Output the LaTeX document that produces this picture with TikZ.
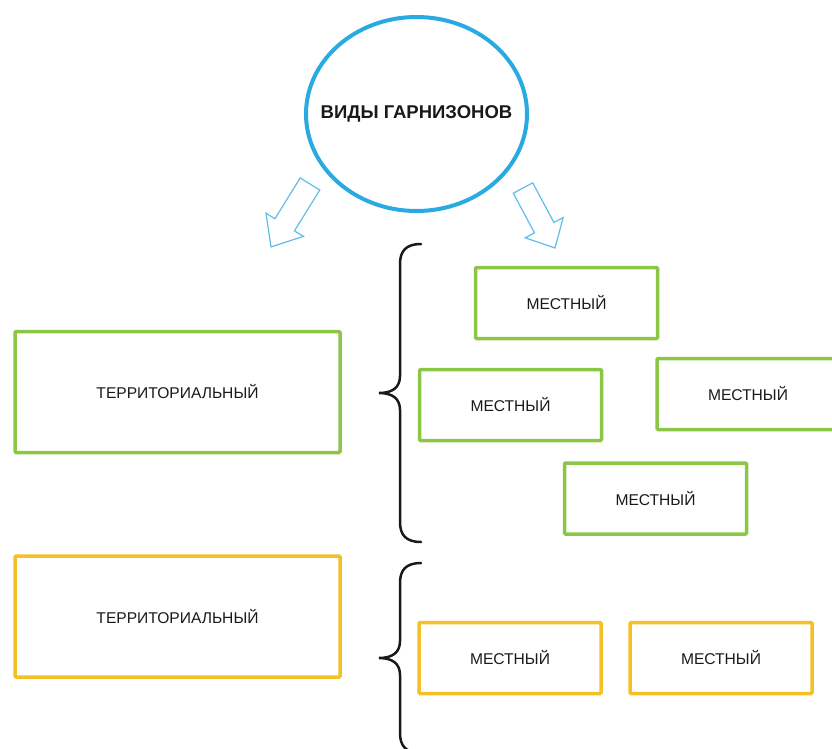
\documentclass[tikz,border=0pt]{standalone}
\usepackage{fontspec}
\setmainfont{Liberation Sans}
\usetikzlibrary{shapes.geometric}
\definecolor{vblue}{RGB}{41,171,226}
\definecolor{varrow}{RGB}{95,190,230}
\definecolor{vgreen}{RGB}{140,198,70}
\definecolor{vyellow}{RGB}{245,192,35}
\definecolor{vtext}{RGB}{25,25,25}
\tikzset{
    title/.style = {ellipse, draw = vblue, line width = 4pt, minimum width = 221pt,
        minimum height = 194pt, inner xsep = -25pt, inner ysep = 0pt, text = vtext,
        font = \fontsize{18.5}{22}\selectfont\bfseries},
    terrbox/.style = {draw, line width = 3.5pt, rounded corners = 1pt,
        minimum width = 325pt, minimum height = 121pt, inner sep = 0pt,
        text = vtext, font = \fontsize{15.6}{18}\selectfont},
    mbox/.style = {terrbox, minimum width = 182pt, minimum height = 71pt},
    blockarr/.style = {draw = varrow, line width = 1.2pt, line join = miter},
    curly/.style = {draw = vtext, line width = 2.5pt, line cap = round}
}
\begin{document}
\begin{tikzpicture}[x = 1pt, y = -1pt]
    \useasboundingbox (0,0) rectangle (832,749);
    %Title
    \node[title] (vidy) at (416.5,114) {ВИДЫ ГАРНИЗОНОВ};
    %Arrows
    \draw[blockarr, shift = {(310,184)}, rotate = -121.8]
        (0,-11.5) -- (48,-11.5) -- (48,-22) -- (74,0)
        -- (48,22) -- (48,11.5) -- (0,11.5) -- cycle;
    \draw[blockarr, shift = {(523,188)}, rotate = -61.9]
        (0,-11) -- (45,-11) -- (45,-21.5) -- (68,0)
        -- (45,21.5) -- (45,11) -- (0,11) -- cycle;
    %Green group
    \node[terrbox, draw = vgreen] (terrG) at (177.5,392) {ТЕРРИТОРИАЛЬНЫЙ};
    \draw[curly] (421,244) .. controls (406,244) and (400,251) .. (400,264)
        -- (400,376) .. controls (400,387) and (393,393) .. (379,393)
        .. controls (393,393) and (400,399) .. (400,410)
        -- (400,522) .. controls (400,535) and (406,542) .. (421,542);
    \node[mbox, draw = vgreen] (mestA) at (566.5,303) {МЕСТНЫЙ};
    \node[mbox, draw = vgreen] (mestB) at (510.5,405) {МЕСТНЫЙ};
    \node[mbox, draw = vgreen] (mestC) at (748,394) {МЕСТНЫЙ};
    \node[mbox, draw = vgreen] (mestD) at (655.5,498.5) {МЕСТНЫЙ};
    %Yellow group
    \node[terrbox, draw = vyellow] (terrY) at (177.5,616.5) {ТЕРРИТОРИАЛЬНЫЙ};
    \draw[curly] (421,563) .. controls (406,563) and (400,570) .. (400,583)
        -- (400,641) .. controls (400,652) and (393,658) .. (379,658)
        .. controls (393,658) and (400,664) .. (400,675)
        -- (400,733) .. controls (400,746) and (406,753) .. (421,753);
    \node[mbox, draw = vyellow] (mestE) at (510,658) {МЕСТНЫЙ};
    \node[mbox, draw = vyellow] (mestF) at (721,658) {МЕСТНЫЙ};
\end{tikzpicture}
\end{document}
